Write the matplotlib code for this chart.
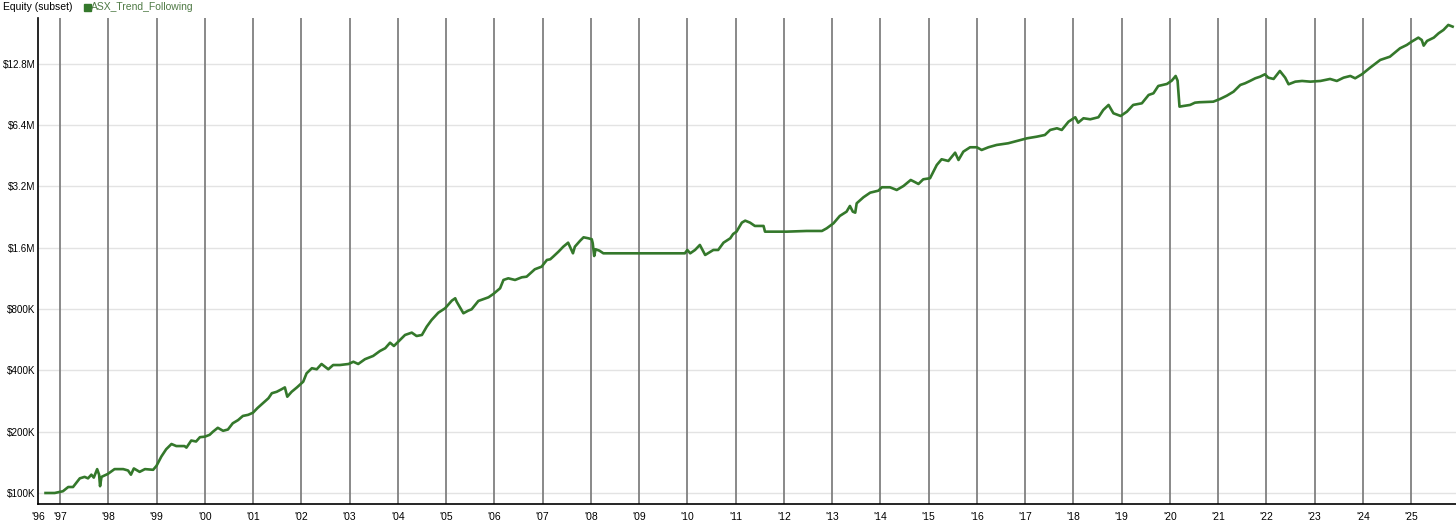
import numpy as np
import matplotlib.pyplot as plt

# equity curve (decimal year, equity in $K)
years = [1996.70, 1996.89, 1997.06, 1997.17, 1997.27, 1997.41, 1997.51, 1997.58, 1997.65, 1997.70,
         1997.77, 1997.81, 1997.83, 1997.86, 1997.99, 1998.13, 1998.31, 1998.41, 1998.47, 1998.53,
         1998.65, 1998.76, 1998.93, 1999.00, 1999.10, 1999.20, 1999.31, 1999.41, 1999.58, 1999.62,
         1999.72, 1999.82, 1999.90, 2000.00, 2000.10, 2000.17, 2000.27, 2000.38, 2000.48, 2000.58,
         2000.69, 2000.79, 2000.90, 2001.00, 2001.09, 2001.32, 2001.39, 2001.49, 2001.59, 2001.66,
         2001.71, 2001.80, 2001.91, 2002.04, 2002.11, 2002.22, 2002.32, 2002.42, 2002.56, 2002.66,
         2002.80, 2002.98, 2003.08, 2003.18, 2003.32, 2003.49, 2003.63, 2003.74, 2003.84, 2003.92,
         2004.01, 2004.15, 2004.29, 2004.39, 2004.50, 2004.60, 2004.70, 2004.84, 2004.98, 2005.12,
         2005.19, 2005.22, 2005.28, 2005.36, 2005.46, 2005.53, 2005.67, 2005.77, 2005.88, 2005.98,
         2006.12, 2006.19, 2006.29, 2006.43, 2006.57, 2006.67, 2006.84, 2006.98, 2007.09, 2007.16,
         2007.22, 2007.33, 2007.43, 2007.53, 2007.63, 2007.67, 2007.78, 2007.85, 2007.95, 2008.02,
         2008.04, 2008.07, 2008.10, 2008.18, 2008.26, 2009.95, 2010.00, 2010.06, 2010.16, 2010.26,
         2010.37, 2010.54, 2010.64, 2010.75, 2010.89, 2010.95, 2011.02, 2011.13, 2011.20, 2011.30,
         2011.40, 2011.58, 2011.61, 2012.06, 2012.47, 2012.79, 2012.89, 2013.03, 2013.16, 2013.30,
         2013.37, 2013.43, 2013.48, 2013.51, 2013.65, 2013.79, 2013.96, 2014.03, 2014.20, 2014.34,
         2014.48, 2014.63, 2014.70, 2014.79, 2014.89, 2015.03, 2015.10, 2015.17, 2015.27, 2015.41,
         2015.55, 2015.62, 2015.72, 2015.86, 2016.00, 2016.10, 2016.24, 2016.41, 2016.65, 2016.83,
         2017.04, 2017.24, 2017.41, 2017.52, 2017.66, 2017.76, 2017.90, 2018.04, 2018.10, 2018.21,
         2018.35, 2018.52, 2018.62, 2018.73, 2018.83, 2018.98, 2019.11, 2019.24, 2019.42, 2019.56,
         2019.66, 2019.76, 2019.94, 2020.04, 2020.12, 2020.16, 2020.20, 2020.28, 2020.42, 2020.52,
         2020.61, 2020.90, 2021.04, 2021.18, 2021.32, 2021.46, 2021.56, 2021.66, 2021.77, 2021.87,
         2021.97, 2022.04, 2022.15, 2022.28, 2022.39, 2022.46, 2022.60, 2022.74, 2022.91, 2023.12,
         2023.32, 2023.46, 2023.60, 2023.74, 2023.84, 2023.98, 2024.15, 2024.36, 2024.56, 2024.77,
         2024.91, 2025.01, 2025.15, 2025.22, 2025.26, 2025.33, 2025.47, 2025.57, 2025.67, 2025.77,
         2025.86]
equity_k = [100, 100, 102, 107, 107, 118, 120, 118, 123, 119,
            131, 123, 108, 120, 124, 131, 131, 129, 123, 132,
            127, 131, 130, 136, 151, 164, 174, 170, 170, 167,
            181, 179, 188, 189, 193, 200, 209, 202, 205, 220,
            228, 239, 242, 248, 261, 292, 309, 314, 323, 330,
            297, 314, 330, 352, 387, 410, 405, 430, 405, 425,
            425, 430, 441, 430, 454, 471, 498, 514, 547, 527,
            553, 597, 613, 590, 597, 656, 707, 768, 807, 880,
            904, 870, 822, 763, 786, 798, 877, 894, 914, 949,
            1012, 1112, 1133, 1112, 1146, 1154, 1255, 1292, 1394, 1405,
            1447, 1531, 1620, 1695, 1503, 1620, 1734, 1801, 1781, 1762,
            1683, 1458, 1573, 1548, 1503, 1503, 1561, 1503, 1561, 1652,
            1475, 1561, 1561, 1695, 1781, 1870, 1920, 2126, 2174, 2126,
            2048, 2048, 1920, 1920, 1935, 1935, 1995, 2111, 2293, 2407,
            2567, 2407, 2380, 2646, 2832, 2984, 3052, 3171, 3171, 3076,
            3218, 3444, 3379, 3292, 3471, 3512, 3782, 4081, 4353, 4270,
            4689, 4317, 4744, 4985, 4985, 4835, 4985, 5117, 5216, 5352,
            5517, 5618, 5728, 6063, 6179, 6063, 6658, 7000, 6584, 6920,
            6840, 7000, 7600, 8045, 7322, 7102, 7455, 8045, 8197, 9005,
            9177, 9970, 10200, 10590, 11164, 10590, 7890, 7950, 8045, 8254,
            8294, 8347, 8604, 8931, 9350, 10085, 10280, 10550, 10875, 11074,
            11377, 10950, 10793, 11811, 10950, 10163, 10468, 10550, 10468, 10550,
            10793, 10550, 10950, 11164, 10875, 11377, 12262, 13380, 13880, 15266,
            15848, 16450, 17220, 16770, 15730, 16590, 17220, 18090, 18780, 19880,
            19500]

y_ticks = [100e3, 200e3, 400e3, 800e3, 1.6e6, 3.2e6, 6.4e6, 12.8e6]
y_labels = ['$100K', '$200K', '$400K', '$800K', '$1.6M', '$3.2M', '$6.4M', '$12.8M']
x_start, x_end = 1996.544, 2025.93
x_ticks = [x_start] + list(range(1997, 2026))
x_labels = ["'96"] + ["'%02d" % (y % 100) for y in range(1997, 2026)]

plt.rcParams['font.family'] = ['Liberation Sans', 'DejaVu Sans']

fig = plt.figure(figsize=(14.56, 5.26), dpi=100)
ax = fig.add_axes([38 / 1456, 22 / 526, 1 - 38 / 1456, 486 / 526])

line_color = '#34782b'
ax.plot(years, np.array(equity_k) * 1000, color=line_color, lw=1.9, zorder=3)

ax.set_yscale('log')
ax.set_ylim(88300, 21.5e6)
ax.set_xlim(x_start, x_end)
ax.set_yticks(y_ticks)
ax.set_yticklabels(y_labels)
ax.yaxis.set_minor_locator(plt.NullLocator())
ax.set_xticks(x_ticks)
ax.set_xticklabels(x_labels)

for t in x_ticks[1:]:
    ax.axvline(t, color='#808080', lw=1.3, zorder=1)
for t in y_ticks:
    ax.axhline(t, color='#e3e3e3', lw=1.0, zorder=0)

ax.tick_params(axis='both', length=0, labelsize=7.5, colors='black')
ax.tick_params(axis='x', pad=6)
ax.tick_params(axis='y', pad=2, labelsize=7.1)
ax.spines['top'].set_visible(False)
ax.spines['right'].set_visible(False)
ax.spines['left'].set_color('black')
ax.spines['bottom'].set_color('black')
ax.spines['left'].set_linewidth(1.2)
ax.spines['bottom'].set_linewidth(1.2)

fig.text(3 / 1456, 1 - 7 / 526, 'Equity (subset)', fontsize=7.5, va='center', ha='left')
fig.patches.append(plt.Rectangle((84 / 1456, 1 - 11 / 526), 7 / 1456, 7 / 526,
                                 transform=fig.transFigure, color=line_color, figure=fig))
fig.text(91 / 1456, 1 - 7 / 526, 'ASX_Trend_Following', fontsize=7.5, va='center', ha='left',
         color='#4f7a45')

plt.savefig('out.png', dpi=100)
